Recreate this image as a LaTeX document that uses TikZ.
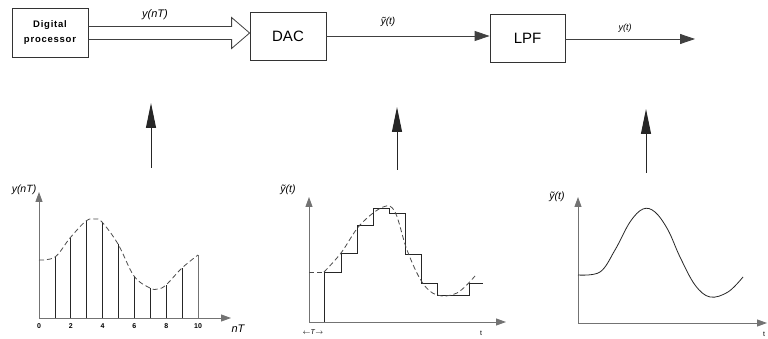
\documentclass[tikz,border=0pt]{standalone}
\usepackage{fontspec}
\setmainfont{Liberation Sans}
\usetikzlibrary{arrows.meta,calc}
\begin{document}
\begin{tikzpicture}[x=1pt,y=-1pt,
  box/.style={draw=black!80,line width=0.8pt,inner sep=0pt},
  wire/.style={draw=black!75,line width=0.8pt},
  bigtip/.style={-{Triangle[length=15pt,width=10pt]}},
  uptip/.style={-{Triangle[length=25pt,width=10pt]}},
  axtip/.style={-{Triangle[length=10pt,width=7pt]}},
  axis/.style={draw=black!55,line width=0.9pt},
  lbl/.style={inner sep=0pt,font=\fontsize{10}{12}\selectfont\itshape},
  tick/.style={inner sep=0pt,font=\fontsize{7}{8}\selectfont\bfseries},
  sig/.style={draw=black!85,line width=0.8pt},
  dsh/.style={draw=black!70,line width=0.8pt,dash pattern=on 5pt off 3pt}]
\useasboundingbox (0,0) rectangle (768,339);
\fill[white] (0,0) rectangle (768,339);

% --- top block diagram ---
\node[box,minimum width=76pt,minimum height=49pt,align=center,
      font=\fontsize{9.5}{15}\selectfont\bfseries\addfontfeature{LetterSpace=8}] (dp) at (50,33)
      {Digital\\processor};
\node[box,minimum width=76pt,minimum height=48pt,font=\fontsize{15}{18}\selectfont] (dac) at (288,36) {DAC};
\node[box,minimum width=75pt,minimum height=48pt,font=\fontsize{15}{18}\selectfont] (lpf) at (527.5,38) {LPF};
\coordinate (tip) at (dac.west |- dp.east);
\coordinate (out) at (695,39);

% hollow (bus) arrow
\draw[wire,line join=miter]
  ($(dp.east)+(0,-6.5)$) -- ($(tip)+(-18,-6.5)$) -- ($(tip)+(-18,-15.5)$) -- (tip)
  -- ($(tip)+(-18,15.5)$) -- ($(tip)+(-18,6.5)$) -- ($(dp.east)+(0,6.5)$);
\node[lbl,font=\fontsize{11}{12}\selectfont\itshape] (l1) at (155,15) {y(nT)};

\draw[wire,bigtip] (dac.east) -- (lpf.west |- dac.east);
\node[lbl] (l2) at (388,22) {ỹ(t)};
\draw[wire,bigtip] (lpf.east |- out) -- (out);
\node[lbl,font=\fontsize{9}{10}\selectfont\itshape] (l3) at (625,28) {y(t)};

% vertical arrows
\coordinate (a1s) at (151,168); \coordinate (a1e) at (151,103);
\coordinate (a2s) at (397,170); \coordinate (a2e) at (397,107);
\coordinate (a3s) at (646,173); \coordinate (a3e) at (646,109);
\draw[sig,line width=1pt,uptip] (a1s) -- (a1e);
\draw[sig,line width=1pt,uptip] (a2s) -- (a2e);
\draw[sig,line width=1pt,uptip] (a3s) -- (a3e);

% --- plot 1: sampled signal ---
\coordinate (o1) at (39,318);
\coordinate (y1) at (39,192);
\coordinate (x1) at (231,318);
\draw[axis,axtip] (o1) -- (y1);
\draw[axis,axtip] (o1) -- (x1);
\node[lbl,font=\fontsize{10.5}{12}\selectfont\itshape] (p1y) at (24,190) {y(nT)};
\node[lbl,font=\fontsize{11}{12}\selectfont\itshape] (p1x) at (238,329) {nT};
\foreach \k/\h in {1/257,2/238,3/221,4/222,5/244,6/276,7/288,8/285,9/268}{
  \draw[sig] ({39+15.9*\k},318) -- ({39+15.9*\k},\h);
}
\draw[axis] (198,318) -- (198,255);
\draw[dsh] plot[smooth,tension=0.6] coordinates {(39,260) (55,257) (70,238) (86,221) (95,219) (102,222) (118,244) (134,276) (150,288) (158,289) (166,285) (182,268) (198,255)};
\foreach \k/\t in {0/0,2/2,4/4,6/6,8/8,10/10}{
  \node[tick] at ({39+15.9*\k},326) {\t};
}

% --- plot 2: DAC staircase ---
\coordinate (o2) at (309,322);
\coordinate (y2) at (309,197);
\coordinate (x2) at (506,322);
\draw[axis,axtip] (o2) -- (y2);
\draw[axis,axtip] (o2) -- (x2);
\node[lbl,font=\fontsize{10.5}{12}\selectfont\itshape] (p2y) at (288,190) {ỹ(t)};
\node[inner sep=0pt,font=\fontsize{7}{8}\selectfont] (p2x) at (481,333) {t};
\node[inner sep=0pt,font=\fontsize{7}{8}\selectfont] (p2T) at (313,332) {$\leftarrow$\textit{T}$\rightarrow$};
\draw[sig] (324,322) -- (324,272) -- (341,272) -- (341,253) -- (357,253) -- (357,225)
  -- (373,225) -- (373,208) -- (389,208) -- (389,213) -- (405,213) -- (405,254)
  -- (421,254) -- (421,283) -- (437,283) -- (437,295) -- (469,295) -- (469,283) -- (483,283);
\draw[dsh] (309,272) -- (324,272);
\draw[dsh] plot[smooth,tension=0.6] coordinates {(324,272) (341,253) (360,225) (383,207) (395,212) (407,250) (422,282) (437,295) (457,293) (475,276)};

% --- plot 3: LPF output ---
\coordinate (o3) at (578,323);
\coordinate (y3) at (578,197);
\coordinate (x3) at (767,323);
\draw[axis,axtip] (o3) -- (y3);
\draw[axis,axtip] (o3) -- (x3);
\node[lbl,font=\fontsize{10.5}{12}\selectfont\itshape] (p3y) at (557,197) {ỹ(t)};
\node[inner sep=0pt,font=\fontsize{7}{8}\selectfont] (p3x) at (764,334) {t};
\draw[sig] plot[smooth,tension=0.6] coordinates {(578,275) (600,272) (615,250) (630,222) (643,209) (655,212) (668,230) (680,257) (695,285) (710,297) (728,292) (743,277)};
\end{tikzpicture}
\end{document}
